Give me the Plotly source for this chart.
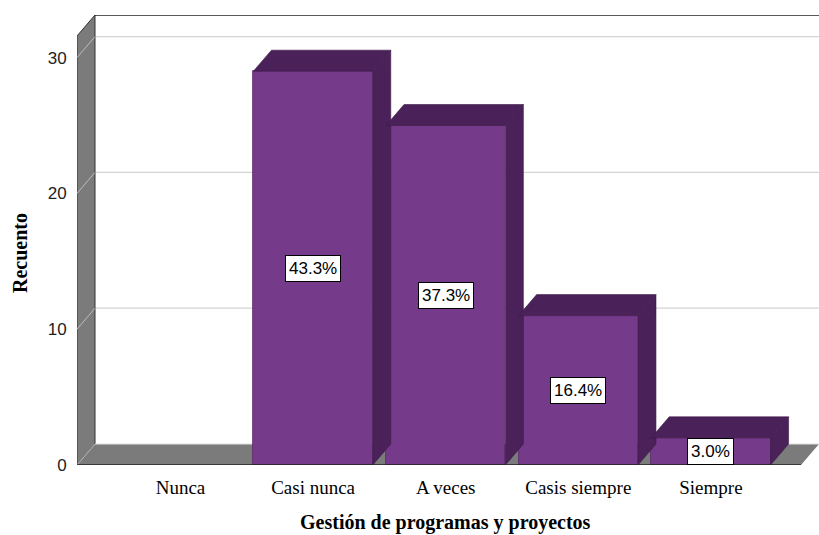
import plotly.graph_objects as go

# ---- data ----
categories = ["Nunca", "Casi nunca", "A veces", "Casis siempre", "Siempre"]
counts = [0, 29, 25, 11, 2]
y_ticks = [0, 10, 20, 30]
x_title = "Gestión de programas y proyectos"
y_title = "Recuento"

total = sum(counts)
pct_labels = [f"{c / total * 100:.1f}%" if c > 0 else "" for c in counts]

# ---- geometry (data units) ----
W, H = 819, 535
L, R, T, B = 77, 0, 15, 70
px_x = 132.6          # pixels per category
px_y = 13.58          # pixels per count
x_rng = [(L - 180.5) / px_x, (W - R - 180.5) / px_x]
y_rng = [0, (H - T - B) / px_y]
dx = 18 / px_x        # depth offset
dy = 21 / px_y
bw = 0.9

front = "#763a8b"
dark = "#4a2159"
wall = "#7b7b7b"
grid = "#d4d4d4"

xs = list(range(len(categories)))

fig = go.Figure()
fig.add_trace(go.Bar(
    x=xs, y=counts, width=bw,
    marker=dict(color=front,
                line=dict(color="#5a2a6c", width=[0 if c == 0 else 0.8 for c in counts])),
    hoverinfo="skip", showlegend=False,
))

shapes = []
xl, xr = x_rng
# back wall
shapes.append(dict(type="path", xref="x", yref="y", layer="below",
                   path=f"M{xl+dx},{dy} L{xl+dx},{y_rng[1]} L{xr},{y_rng[1]} L{xr},{dy} Z",
                   fillcolor="white", line=dict(width=0)))
# back gridlines
for t in y_ticks[1:]:
    shapes.append(dict(type="line", xref="x", yref="y", layer="below",
                       x0=xl+dx, x1=xr, y0=t+dy, y1=t+dy, line=dict(color=grid, width=1.2)))
# left side wall
shapes.append(dict(type="path", xref="x", yref="y", layer="below",
                   path=f"M{xl},0 L{xl},{y_rng[1]-dy} L{xl+dx},{y_rng[1]} L{xl+dx},{dy} Z",
                   fillcolor=wall, line=dict(color="#333333", width=1)))
# side wall gridlines
for t in y_ticks[1:]:
    shapes.append(dict(type="line", xref="x", yref="y", layer="below",
                       x0=xl, x1=xl+dx, y0=t, y1=t+dy, line=dict(color="#bdbdbd", width=1)))
# floor
shapes.append(dict(type="path", xref="x", yref="y", layer="below",
                   path=f"M{xl},0 L{xl+dx},{dy} L{xr},{dy} L{xr-dx},0 Z",
                   fillcolor=wall, line=dict(width=0)))
shapes.append(dict(type="line", xref="x", yref="y", layer="below",
                   x0=xl+dx, x1=xr, y0=dy, y1=dy, line=dict(color="#e0e0e0", width=1)))
shapes.append(dict(type="line", xref="x", yref="y", layer="below",
                   x0=xl, x1=xl+dx, y0=0, y1=dy, line=dict(color="#bdbdbd", width=1)))
shapes.append(dict(type="line", xref="x", yref="y", layer="above",
                   x0=xl, x1=xr-dx, y0=0, y1=0, line=dict(color="#222222", width=1.5)))
shapes.append(dict(type="line", xref="x", yref="y", layer="below",
                   x0=xl+dx, x1=xr, y0=y_rng[1], y1=y_rng[1], line=dict(color="#222222", width=1.5)))

# bar top & side faces
for x, c in zip(xs, counts):
    if c <= 0:
        continue
    x0, x1 = x - bw / 2, x + bw / 2
    shapes.append(dict(type="path", xref="x", yref="y", layer="above",
                       path=f"M{x0},{c} L{x0+dx},{c+dy} L{x1+dx},{c+dy} L{x1},{c} Z",
                       fillcolor=dark, line=dict(color="#3c1a48", width=0.6)))
    shapes.append(dict(type="path", xref="x", yref="y", layer="above",
                       path=f"M{x1},0 L{x1},{c} L{x1+dx},{c+dy} L{x1+dx},{dy} Z",
                       fillcolor=dark, line=dict(color="#3c1a48", width=0.6)))

annotations = []
for x, c, lab in zip(xs, counts, pct_labels):
    if not lab:
        continue
    annotations.append(dict(x=x, y=c / 2, xref="x", yref="y", text=lab, showarrow=False,
                            xanchor="center", yanchor="middle",
                            font=dict(family="Liberation Sans", size=17, color="black"),
                            bgcolor="white", bordercolor="black", borderwidth=1, borderpad=3))

plot_w = W - L - R
plot_h = H - T - B
annotations.append(dict(text=f"<b>{x_title}</b>", xref="paper", yref="paper",
                        x=(445 - L) / plot_w, y=-(522 - (H - B)) / plot_h, showarrow=False,
                        xanchor="center", yanchor="middle",
                        font=dict(family="Liberation Serif", size=20, color="black")))
annotations.append(dict(text=f"<b>{y_title}</b>", xref="paper", yref="paper", textangle=-90,
                        x=(20 - L) / plot_w, y=((H - B) - 253) / plot_h, showarrow=False,
                        xanchor="center", yanchor="middle",
                        font=dict(family="Liberation Serif", size=20, color="black")))

fig.update_layout(
    width=W, height=H,
    margin=dict(l=L, r=R, t=T, b=B, autoexpand=False),
    paper_bgcolor="white", plot_bgcolor="white",
    shapes=shapes, annotations=annotations,
    bargap=0,
    xaxis=dict(range=x_rng, tickvals=xs, ticktext=categories, showgrid=False, zeroline=False,
               showline=False, ticks="outside", ticklen=5, tickcolor="rgba(0,0,0,0)",
               tickfont=dict(family="Liberation Serif", size=19, color="black"), fixedrange=True),
    yaxis=dict(range=y_rng, tickvals=y_ticks, showgrid=False, zeroline=False, showline=False,
               ticks="outside", ticklen=6, tickcolor="rgba(0,0,0,0)",
               tickfont=dict(family="Liberation Sans", size=17, color="#222222"), fixedrange=True),
)

fig.write_html("out.html")
